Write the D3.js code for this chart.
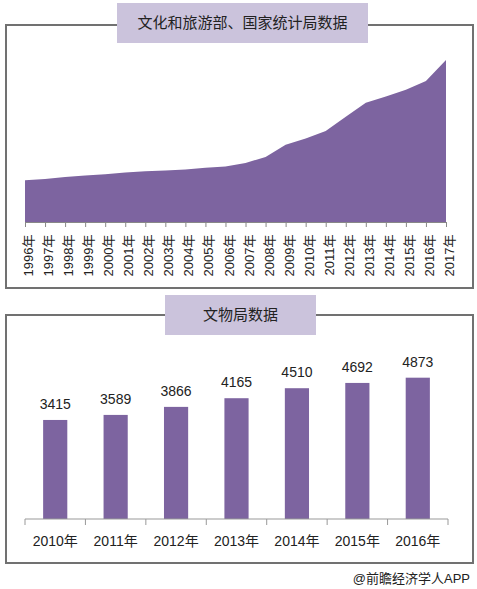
<!DOCTYPE html>
<html><head><meta charset="utf-8">
<script src="https://cdn.jsdelivr.net/npm/d3@7"></script>
<style>body{margin:0;background:#fff;}svg{display:block;font-family:"Liberation Sans",Arial,"Noto Sans CJK SC",sans-serif;}</style>
</head><body><svg id="c" width="477" height="589"></svg>
<script>
// Top chart: museum counts (文化和旅游部、国家统计局数据)
const areaYears = ["1996年","1997年","1998年","1999年","2000年","2001年","2002年","2003年","2004年","2005年","2006年","2007年","2008年","2009年","2010年","2011年","2012年","2013年","2014年","2015年","2016年","2017年"];
const areaValues = [1219,1256,1314,1355,1392,1442,1480,1500,1530,1581,1617,1722,1893,2252,2435,2650,3069,3473,3658,3852,4109,4721];
// Bottom chart: 文物局数据
const barYears = ["2010年","2011年","2012年","2013年","2014年","2015年","2016年"];
const barValues = [3415,3589,3866,4165,4510,4692,4873];
const topTitle = "文化和旅游部、国家统计局数据";
const bottomTitle = "文物局数据";
const footer = "@前瞻经济学人APP";

const svg = d3.select("#c");
const purple = "#7d64a0", boxFill = "#cbc3dc", borderC = "#717171";

function panel(y0,y1,bx0,bx1,by0,by1,title){
  svg.append("rect").attr("x",6).attr("y",y0).attr("width",467).attr("height",y1-y0)
    .attr("fill","none").attr("stroke",borderC).attr("stroke-width",2);
  svg.append("rect").attr("x",bx0).attr("y",by0).attr("width",bx1-bx0).attr("height",by1-by0).attr("fill",boxFill);
  svg.append("text").attr("x",(bx0+bx1)/2).attr("y",(by0+by1)/2+5).attr("text-anchor","middle")
    .attr("font-size",15).attr("fill","#222").text(title);
}
panel(25,288,117,368,3,43,topTitle);
panel(315,563,165,316,295,335,bottomTitle);

// Top area chart
const xa = d3.scalePoint().domain(areaYears).range([25,446]);
const ya = d3.scaleLinear().domain([0,4721]).range([222,60]);
svg.append("path").datum(areaValues)
  .attr("fill",purple)
  .attr("d",d3.area().x((d,i)=>xa(areaYears[i])).y0(ya(0)).y1(d=>ya(d)));
const axA = svg.append("g").attr("transform",`translate(0,${ya(0)})`)
  .call(d3.axisBottom(xa).tickSize(5).tickSizeOuter(0));
axA.select(".domain").attr("stroke","#888");
axA.selectAll(".tick line").attr("stroke","#888");
axA.selectAll(".tick text").attr("font-size",13).attr("fill","#222")
  .attr("font-family",'"Liberation Sans",Arial,"Noto Sans CJK SC",sans-serif')
  .attr("transform","rotate(-90)").attr("text-anchor","end").attr("dx","-0.5em").attr("dy","0.35em").attr("y",3).attr("x",-6);

// Bottom bar chart
const xb = d3.scaleBand().domain(barYears).range([25,448]).paddingInner(0.6).paddingOuter(0.3);
const yb = d3.scaleLinear().domain([0,6000]).range([519,345]);
svg.append("g").selectAll("rect").data(barValues).join("rect")
  .attr("x",(d,i)=>xb(barYears[i])).attr("width",xb.bandwidth())
  .attr("y",d=>yb(d)).attr("height",d=>yb(0)-yb(d)).attr("fill",purple);
svg.append("g").selectAll("text").data(barValues).join("text")
  .attr("x",(d,i)=>xb(barYears[i])+xb.bandwidth()/2).attr("y",d=>yb(d)-11)
  .attr("text-anchor","middle").attr("font-size",14).attr("fill","#222").text(d=>d);
// axis with ticks at band boundaries
const step = xb.step();
const axB = svg.append("g");
axB.append("line").attr("x1",25).attr("x2",448).attr("y1",519).attr("y2",519).attr("stroke","#999");
const bounds = barYears.map(d=>xb(d)-xb.paddingInner()*step/2).concat([448]);
axB.selectAll("line.t").data(bounds).join("line").attr("class","t")
  .attr("x1",d=>d).attr("x2",d=>d).attr("y1",519).attr("y2",525).attr("stroke","#999");
axB.selectAll("text").data(barYears).join("text")
  .attr("x",d=>xb(d)+xb.bandwidth()/2).attr("y",546).attr("text-anchor","middle")
  .attr("font-size",14).attr("fill","#222").text(d=>d);

svg.append("text").attr("x",470).attr("y",583).attr("text-anchor","end").attr("font-size",13).attr("fill","#222").text(footer);
</script></body></html>
